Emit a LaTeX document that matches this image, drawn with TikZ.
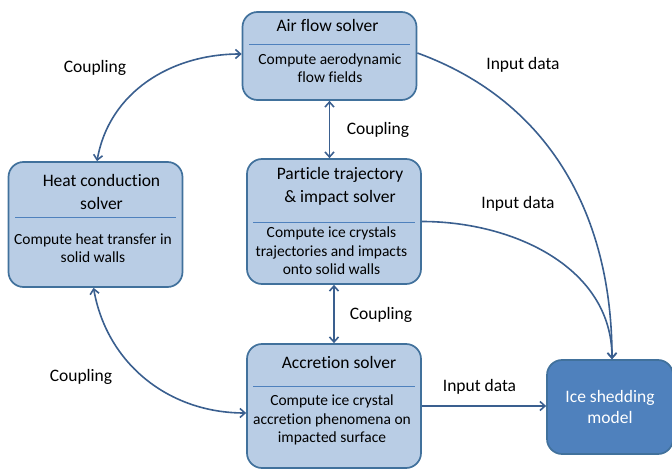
\documentclass[tikz,border=0pt]{standalone}
\usepackage{fontspec}
\setmainfont{Carlito}[Ligatures=NoCommon]
\usetikzlibrary{arrows.meta}
\definecolor{boxfill}{HTML}{B9CDE5}
\definecolor{boxline}{HTML}{41719C}
\definecolor{modelfill}{HTML}{4F81BD}
\definecolor{arrowcol}{HTML}{3A5F8F}
\tikzset{
  solver/.style={draw=boxline,line width=1.7pt,fill=boxfill,rounded corners=15pt,minimum width=174pt},
  model/.style={draw=boxline,line width=1.7pt,fill=modelfill,rounded corners=15pt,minimum width=126pt,minimum height=94pt,
    text=white,align=center,font=\fontsize{17.5}{21}\selectfont},
  title/.style={inner sep=0pt,align=center,font=\fontsize{17.5}{22.5}\selectfont},
  body/.style={inner sep=0pt,align=center,font=\fontsize{15.5}{18.5}\selectfont},
  note/.style={inner sep=0pt,font=\fontsize{17.5}{21}\selectfont},
  divider/.style={draw=modelfill,line width=0.8pt},
  couple/.style={draw=arrowcol,line width=1.6pt,{Straight Barb[length=5pt,width=9pt]}-{Straight Barb[length=5pt,width=9pt]}},
  feed/.style={draw=arrowcol,line width=1.6pt,-{Straight Barb[length=5pt,width=9pt]}}
}
\begin{document}
\begin{tikzpicture}[x=1pt,y=-1pt]
    \useasboundingbox (0,0) rectangle (672,470);
    %% solvers
    \node[solver,minimum height=88pt] (air) at (329.5,56) {};
    \node[solver,minimum height=125pt] (part) at (334,221.5) {};
    \node[solver,minimum height=125pt] (heat) at (95.5,224.5) {};
    \node[solver,minimum height=124pt] (accr) at (334,406) {};
    \node[model] (ice) at (610,407) {Ice shedding\\model};
    %% dividers
    \draw[divider] (249,44) -- (410,44);
    \draw[divider] (253,222) -- (415,222);
    \draw[divider] (15,217) -- (176,217);
    \draw[divider] (253,386) -- (415,386);
    %% texts
    \node[title] (airT) at (327.5,25) {Air flow solver};
    \node[body] (airB) at (330,68) {Compute aerodynamic\\flow fields};
    \node[title] (partT) at (340,186.5) {Particle trajectory\\\& impact solver};
    \node[body] (partB) at (331.5,251) {Compute ice crystals\\trajectories and impacts\\onto solid walls};
    \node[title] (heatT) at (101.5,192) {Heat conduction\\solver};
    \node[body] (heatB) at (93,248) {Compute heat transfer in\\solid walls};
    \node[title] (accrT) at (339,362) {Accretion solver};
    \node[body] (accrB) at (332,420) {Compute ice crystal\\accretion phenomena on\\impacted surface};
    %% coupling
    \draw[couple] (air.south) -- (air.south |- part.north);
    \draw[couple] (part.south) -- (accr.north);
    \draw[couple] ([yshift=2pt]air.west) to[out=180,in=80] ([xshift=1.5pt]heat.north);
    \draw[couple] ([xshift=-2pt]heat.south) to[out=-80,in=180] ([yshift=-7pt]accr.west);
    \node[note] (c1) at (378,130) {Coupling};
    \node[note] (c2) at (381,315) {Coupling};
    \node[note] (c3) at (95,68) {Coupling};
    \node[note] (c4) at (81,377) {Coupling};
    %% input data
    \draw[feed] ([yshift=3pt]air.east) to[out=-20,in=90] ([xshift=2pt]ice.north);
    \draw[feed] (part.east) to[out=0,in=90] ([xshift=2pt]ice.north);
    \draw[feed] (accr.east) -- (accr.east -| ice.west);
    \node[note] (d1) at (523,65) {Input data};
    \node[note] (d2) at (518,204) {Input data};
    \node[note] (d3) at (479.5,387) {Input data};
\end{tikzpicture}
\end{document}
